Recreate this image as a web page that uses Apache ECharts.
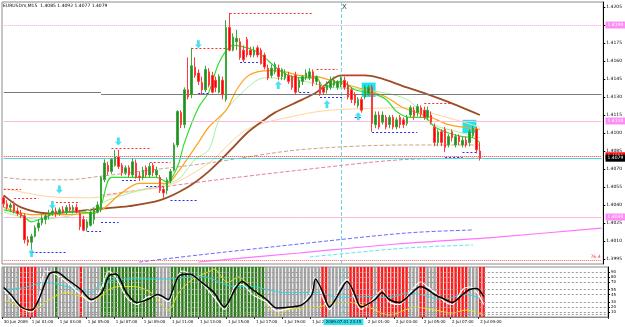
<!DOCTYPE html>
<html><head><meta charset="utf-8">
<script src="https://cdn.jsdelivr.net/npm/echarts@6/dist/echarts.min.js"></script>
<style>html,body{margin:0;padding:0;background:#fff}#c{width:625px;height:327px}</style>
</head><body><div id="c"></div>
<script>
// ---------- DATA ----------
const totalBars = 173; // 138 candles + empty shift space
const tickBars   = [0,8,16,24,32,40,48,56,64,72,80,88,104,112,120,128,136];
const tickLabels = ["30 Jun 2009","1 Jul 01:00","1 Jul 03:00","1 Jul 05:00","1 Jul 07:00","1 Jul 09:00","1 Jul 11:00","1 Jul 13:00","1 Jul 15:00","1 Jul 17:00","1 Jul 19:00","1 Jul 21:00","2 Jul 01:00","2 Jul 03:00","2 Jul 05:00","2 Jul 07:00","2 Jul 09:00"];
const priceTicks = [1.3995,1.4010,1.4025,1.4040,1.4055,1.4070,1.4085,1.4100,1.4115,1.4130,1.4145,1.4160,1.4175,1.4190,1.4205];
const oscLevels = [90,80,70,55,45,30,20,10,5];
const titleText = "EURUSDm,M15  1.4085 1.4092 1.4077 1.4079";
const crossBar = 97;
const crossLabel = "2009.07.01 23:15";

// [open, close, low, high]
const candles = [
[1.4046,1.4041,1.4038,1.4048],[1.4041,1.4038,1.4036,1.4044],[1.4038,1.4040,1.4034,1.4042],[1.4040,1.4035,1.4033,1.4043],
[1.4035,1.4033,1.4031,1.4038],[1.4033,1.4031,1.4029,1.4036],[1.4031,1.4011,1.4008,1.4033],[1.4011,1.4009,1.4006,1.4014],
[1.4009,1.4014,1.4003,1.4016],[1.4014,1.4021,1.4013,1.4023],[1.4021,1.4025,1.4018,1.4028],[1.4025,1.4029,1.4023,1.4032],
[1.4028,1.4031,1.4024,1.4033],[1.4031,1.4033,1.4028,1.4036],[1.4033,1.4035,1.4031,1.4038],[1.4035,1.4033,1.4030,1.4038],
[1.4033,1.4036,1.4031,1.4038],[1.4036,1.4034,1.4033,1.4039],[1.4034,1.4038,1.4032,1.4040],[1.4038,1.4036,1.4034,1.4041],
[1.4036,1.4038,1.4033,1.4040],[1.4038,1.4034,1.4033,1.4041],[1.4033,1.4022,1.4019,1.4036],[1.4028,1.4019,1.4018,1.4031],
[1.4021,1.4026,1.4018,1.4028],[1.4023,1.4034,1.4022,1.4036],[1.4028,1.4036,1.4024,1.4038],[1.4034,1.4040,1.4033,1.4043],
[1.4036,1.4063,1.4034,1.4064],[1.4061,1.4075,1.4059,1.4078],[1.4073,1.4068,1.4065,1.4076],[1.4068,1.4078,1.4066,1.4079],
[1.4073,1.4080,1.4072,1.4086],[1.4080,1.4072,1.4070,1.4086],[1.4073,1.4067,1.4064,1.4075],[1.4067,1.4071,1.4065,1.4073],
[1.4071,1.4065,1.4063,1.4073],[1.4065,1.4076,1.4063,1.4079],[1.4075,1.4063,1.4062,1.4078],[1.4064,1.4063,1.4060,1.4068],
[1.4063,1.4069,1.4061,1.4072],[1.4071,1.4065,1.4063,1.4073],[1.4065,1.4072,1.4063,1.4075],[1.4073,1.4067,1.4064,1.4075],
[1.4065,1.4069,1.4063,1.4072],[1.4063,1.4052,1.4050,1.4065],[1.4053,1.4050,1.4046,1.4056],[1.4052,1.4061,1.4049,1.4063],
[1.4060,1.4068,1.4058,1.4070],[1.4069,1.4090,1.4068,1.4092],[1.4090,1.4118,1.4088,1.4119],[1.4117,1.4107,1.4104,1.4119],
[1.4107,1.4136,1.4104,1.4138],[1.4136,1.4130,1.4128,1.4163],[1.4132,1.4156,1.4129,1.4171],[1.4155,1.4148,1.4146,1.4163],
[1.4150,1.4143,1.4140,1.4153],[1.4142,1.4136,1.4132,1.4147],[1.4136,1.4153,1.4134,1.4156],[1.4151,1.4140,1.4138,1.4154],
[1.4148,1.4134,1.4133,1.4151],[1.4144,1.4138,1.4134,1.4147],[1.4134,1.4147,1.4133,1.4149],[1.4144,1.4132,1.4128,1.4147],
[1.4128,1.4188,1.4126,1.4194],[1.4188,1.4169,1.4168,1.4200],[1.4169,1.4180,1.4168,1.4183],[1.4176,1.4179,1.4169,1.4186],
[1.4176,1.4163,1.4161,1.4179],[1.4169,1.4161,1.4159,1.4173],[1.4178,1.4165,1.4163,1.4180],[1.4169,1.4165,1.4163,1.4172],
[1.4165,1.4169,1.4163,1.4172],[1.4171,1.4165,1.4163,1.4173],[1.4169,1.4158,1.4157,1.4171],[1.4165,1.4155,1.4153,1.4167],
[1.4154,1.4146,1.4144,1.4157],[1.4148,1.4154,1.4146,1.4157],[1.4151,1.4157,1.4149,1.4159],[1.4154,1.4147,1.4144,1.4157],
[1.4147,1.4153,1.4144,1.4154],[1.4146,1.4150,1.4144,1.4153],[1.4148,1.4143,1.4141,1.4151],[1.4147,1.4138,1.4136,1.4148],
[1.4148,1.4134,1.4132,1.4151],[1.4138,1.4144,1.4134,1.4146],[1.4143,1.4147,1.4140,1.4148],[1.4146,1.4150,1.4144,1.4153],
[1.4146,1.4151,1.4144,1.4154],[1.4151,1.4142,1.4139,1.4153],[1.4143,1.4147,1.4140,1.4148],[1.4140,1.4133,1.4131,1.4143],
[1.4138,1.4134,1.4132,1.4140],[1.4136,1.4140,1.4133,1.4143],[1.4138,1.4144,1.4136,1.4147],[1.4140,1.4144,1.4138,1.4147],
[1.4138,1.4143,1.4136,1.4144],[1.4140,1.4146,1.4138,1.4148],[1.4144,1.4138,1.4136,1.4147],[1.4140,1.4130,1.4128,1.4143],
[1.4136,1.4128,1.4125,1.4138],[1.4132,1.4125,1.4123,1.4134],[1.4123,1.4128,1.4121,1.4130],[1.4128,1.4119,1.4117,1.4130],
[1.4130,1.4138,1.4128,1.4140],[1.4133,1.4138,1.4131,1.4140],[1.4138,1.4108,1.4101,1.4140],[1.4107,1.4115,1.4104,1.4118],
[1.4115,1.4105,1.4103,1.4118],[1.4109,1.4115,1.4107,1.4118],[1.4113,1.4105,1.4103,1.4115],[1.4107,1.4113,1.4104,1.4115],
[1.4113,1.4105,1.4103,1.4115],[1.4105,1.4111,1.4103,1.4113],[1.4113,1.4107,1.4104,1.4115],[1.4111,1.4107,1.4104,1.4113],
[1.4108,1.4113,1.4106,1.4115],[1.4115,1.4121,1.4113,1.4123],[1.4119,1.4114,1.4111,1.4122],[1.4117,1.4122,1.4114,1.4124],
[1.4121,1.4116,1.4113,1.4123],[1.4119,1.4113,1.4111,1.4122],[1.4113,1.4119,1.4111,1.4122],[1.4115,1.4109,1.4107,1.4118],
[1.4105,1.4092,1.4089,1.4108],[1.4092,1.4101,1.4089,1.4103],[1.4101,1.4092,1.4089,1.4103],[1.4103,1.4088,1.4084,1.4105],
[1.4090,1.4097,1.4088,1.4099],[1.4101,1.4096,1.4093,1.4103],[1.4090,1.4097,1.4088,1.4099],[1.4097,1.4093,1.4090,1.4099],
[1.4090,1.4094,1.4088,1.4097],[1.4094,1.4090,1.4088,1.4097],[1.4092,1.4101,1.4089,1.4103],[1.4098,1.4104,1.4096,1.4106],
[1.4103,1.4086,1.4083,1.4105],[1.4085,1.4079,1.4077,1.4092]
];

// moving averages: [bar, price]
const maFast   = [[0,1.4036],[5,1.4032],[8,1.4026],[12,1.4030],[16,1.4034],[23,1.4034],[26,1.4033],[28,1.4040],[31,1.4063],[37,1.4063],[44,1.4063],[47,1.4059],[50,1.4072],[52,1.4092],[56,1.4121],[59,1.4134],[62,1.4159],[66,1.4173],[72,1.4169],[75,1.4163],[79,1.4153],[83,1.4147],[87,1.4146],[90,1.4146],[92,1.4138],[97,1.4143],[101,1.4136],[106,1.4133],[110,1.4128],[113,1.4118],[117,1.4113],[121,1.4113],[124,1.4105],[128,1.4100],[132,1.4097],[135,1.4096],[137,1.4092]];
const maOrange = [[0,1.4038],[8,1.4032],[18,1.4032],[28,1.4036],[33,1.4048],[39,1.4058],[47,1.4058],[50,1.4067],[56,1.4092],[59,1.4105],[64,1.4119],[67,1.4136],[70,1.4147],[73,1.4151],[77,1.4152],[81,1.4151],[85,1.4148],[90,1.4147],[94,1.4144],[99,1.4140],[104,1.4136],[110,1.4130],[115,1.4121],[123,1.4113],[128,1.4107],[137,1.4103]];
const maLight  = [[0,1.4034],[10,1.4028],[22,1.4033],[30,1.4044],[40,1.4053],[50,1.4061],[55,1.4078],[59,1.4086],[62,1.4111],[68,1.4132],[75,1.4146],[85,1.4144],[94,1.4138],[104,1.4136],[116,1.4128],[123,1.4108],[132,1.4100],[137,1.4096]];
const maPeach  = [[0,1.4054],[13,1.4047],[25,1.4046],[36,1.4051],[48,1.4057],[59,1.4075],[70,1.4103],[85,1.4115],[94,1.4119],[116,1.4121],[125,1.4115],[137,1.4105]];
const maBrown  = [[0,1.4048],[5,1.4038],[13,1.4033],[28,1.4037],[36,1.4039],[45,1.4044],[53,1.4055],[59,1.4068],[66,1.4088],[70,1.4100],[75,1.4111],[78,1.4117],[86,1.4128],[90,1.4134],[97,1.4148],[104,1.4148],[116,1.4138],[126,1.4128],[137,1.4115]];
const maTan    = [[0,1.4063],[8,1.4061],[18,1.4061],[28,1.4064],[42,1.4069],[59,1.4075],[85,1.4086],[116,1.4090],[137,1.4090]];
const maPink   = [[28,1.4048],[56,1.4059],[85,1.4069],[116,1.4078],[137,1.4079]];
const maBlue   = [[39,1.39925],[56,1.39983],[85,1.40075],[116,1.40167],[135,1.40192]];
const maMagenta= [[56,1.39925],[85,1.4000],[113,1.40075],[142,1.40133],[172,1.40208]];
const maCyan   = [[88,1.39967],[116,1.40042],[135,1.40067]];

// fractal level segments: [fromBar, toBar, price]
const highSegs = [[54,64,1.4171],[65,89,1.4200],[90,96,1.4153],[97,104,1.4148],[121,129,1.4125],[31,42,1.4087],[42,48,1.4076],[0,5,1.4053],[3,10,1.4046],[15,22,1.4042]];
const lowSegs  = [[8,18,1.4001],[24,28,1.4018],[28,33,1.4026],[34,38,1.4061],[41,46,1.4056],[48,56,1.4044],[56,59,1.4133],[68,74,1.4159],[85,88,1.4134],[91,98,1.4130],[101,103,1.4113],[106,119,1.4101],[127,132,1.4080],[132,136,1.4084]];

// signal arrows [bar, price]
const downArrows = [[14,1.4040],[16,1.4053],[33,1.4093],[56,1.4174]];
const upArrows   = [[8,1.4000],[79,1.4140],[93,1.4124],[102,1.4114]];
// cyan zones [fromBar, toBar, topPrice, bottomPrice]
const zones = [[103,107,1.4142,1.4130],[132,136,1.4111,1.4100]];

// horizontal levels
const levelDottedPink = 1.4190, levelPink1 = 1.4110, levelRed = 1.4081, levelBid = 1.4079, levelPink2 = 1.4030, levelFibo = 1.39942;
const grayLineSegs = [[0,28,1.41342],[28,172,1.41325]];

// lower pane
const paneState = ("nnnnn"+"rrrrr"+"nnnnn"+"g"+"nnnnnn"+"r"+"nnnnn"+"gggggggggggggggg"+"nnnn"+"ggggggggggggggggggggggggggg"+"nnnnnnnnnnnnnnnn"+"rr"+"nnnnnn"+"rrrrrrr"+"n"+"rrrrrrrrr"+"nnn"+"rr"+"nnn"+"rrrrrrrrr"+"nnn"+"rr").split("");
const oscBlack = [[0,59],[2,45],[5,20],[8,14],[10,35],[13,86],[15,90],[18,76],[22,55],[25,35],[28,49],[30,82],[32,86],[35,49],[38,29],[41,35],[44,45],[47,35],[48,49],[50,82],[53,86],[56,72],[60,49],[63,20],[66,55],[68,71],[71,55],[75,35],[78,18],[82,20],[85,24],[88,45],[89,76],[91,51],[93,20],[96,51],[98,71],[100,49],[102,20],[106,35],[108,49],[110,35],[113,29],[116,45],[119,61],[121,55],[123,45],[126,35],[128,29],[131,45],[133,55],[135,57],[137,41]];
const oscWhite = [[0,55],[2,40],[5,18],[8,10],[10,40],[12,92],[15,85],[18,70],[22,45],[25,30],[28,60],[30,92],[32,80],[35,40],[38,25],[41,40],[44,42],[47,30],[49,70],[51,92],[54,82],[57,65],[60,40],[63,15],[66,62],[68,65],[71,45],[75,30],[78,12],[82,18],[85,25],[88,55],[89,80],[91,40],[93,15],[96,60],[98,75],[100,40],[102,15],[106,40],[108,55],[110,30],[113,25],[116,50],[119,70],[121,60],[123,50],[126,30],[128,25],[131,55],[133,60],[135,50],[137,25]];
const oscCyan  = [[0,55],[6,59],[12,69],[19,59],[25,49],[28,69],[37,76],[47,76],[53,80],[56,82],[66,61],[71,61],[75,55],[80,49],[85,49],[90,49],[94,41],[99,39],[104,41],[110,39],[116,49],[119,45],[125,35],[132,45],[137,35]];
const oscYellow= [[0,35],[5,20],[8,14],[13,35],[18,49],[22,41],[26,35],[30,55],[33,61],[37,61],[42,49],[47,14],[50,49],[54,76],[59,92],[60,96],[64,69],[67,80],[71,55],[74,35],[78,4],[81,14],[85,18],[90,20],[94,29],[99,29],[104,20],[110,4],[116,18],[117,20],[123,14],[128,8],[132,14],[137,4]];

// ---------- CHART ----------
const FONT = 'DejaVu Sans';
const cats = [];
for (let i = 0; i < totalBars; i++) cats.push(String(i));
const labelAt = {};
tickBars.forEach((b, k) => { labelAt[b] = tickLabels[k]; });
const stateColor = { g: '#2f7f1d', n: '#a3a3a3', r: '#ff1c1c' };
const lastCat = totalBars - 1;

function lineSeries(data, color, width, type, z) {
  return { type: 'line', xAxisIndex: 0, yAxisIndex: 0, data: data, showSymbol: false, smooth: 0.3,
    lineStyle: { color: color, width: width, type: type || 'solid' }, silent: true, z: z || 3 };
}
function segLines(segs) {
  return segs.map(s => [{ coord: [s[0], s[2]] }, { coord: [s[1], s[2]] }]);
}
function hLevel(p, color, type, label) {
  const a = { coord: [0, p], lineStyle: { color: color, type: type, width: 1 }, label: label || { show: false } };
  return [a, { coord: [lastCat, p] }];
}
function boxLabel(text, bg, fg) {
  return { show: true, position: 'end', formatter: text, backgroundColor: bg, color: fg, fontSize: 4.5, padding: [1, 2], distance: 4, fontFamily: FONT };
}
const arrowPath = 'path://M3,0 L7,0 L7,6 L10,6 L5,11 L0,6 L3,6 Z';

const option = {
  animation: false,
  backgroundColor: '#ffffff',
  textStyle: { fontFamily: FONT },
  grid: [
    { left: 2, right: 17, top: 2, height: 262, show: true, borderColor: '#8c8c8c', borderWidth: 1, backgroundColor: '#fff' },
    { left: 2, right: 17, top: 267, height: 50, show: true, borderColor: '#8c8c8c', borderWidth: 1, backgroundColor: '#fff' }
  ],
  xAxis: [
    { type: 'category', gridIndex: 0, data: cats, boundaryGap: true,
      axisLine: { show: false }, axisTick: { show: false }, axisLabel: { show: false }, splitLine: { show: false } },
    { type: 'category', gridIndex: 1, data: cats, boundaryGap: true,
      axisLine: { show: true, lineStyle: { color: '#8c8c8c' } },
      axisTick: { show: true, length: 2, interval: (i) => labelAt[i] !== undefined, lineStyle: { color: '#333' } },
      axisLabel: { show: true, interval: (i) => labelAt[i] !== undefined, formatter: (v, i) => labelAt[i] || '',
        fontSize: 4, color: '#000', align: 'left', margin: 3, fontFamily: FONT },
      splitLine: { show: false } }
  ],
  yAxis: [
    { type: 'value', gridIndex: 0, position: 'right', min: 1.399083, max: 1.420917,
      axisLine: { show: true, lineStyle: { color: '#000' } },
      axisTick: { show: true, length: 2, customValues: priceTicks, lineStyle: { color: '#000' } },
      axisLabel: { customValues: priceTicks, formatter: v => v.toFixed(4), fontSize: 4.5, color: '#000', margin: 3, fontFamily: FONT },
      splitLine: { show: false } },
    { type: 'value', gridIndex: 1, position: 'right', min: 0, max: 100,
      axisLine: { show: true, lineStyle: { color: '#000' } },
      axisTick: { show: true, length: 2, customValues: oscLevels, lineStyle: { color: '#000' } },
      axisLabel: { customValues: oscLevels, fontSize: 4, color: '#000', margin: 3, fontFamily: FONT },
      splitLine: { show: false } }
  ],
  graphic: [
    { type: 'text', left: 3, top: 3, style: { text: titleText, fontSize: 4.5, fill: '#000', fontFamily: FONT }, z: 100 },
    { type: 'text', left: 342, top: 4, style: { text: 'X', fontSize: 7, fill: '#444', fontFamily: FONT }, z: 100 }
  ],
  series: [
    // horizontal levels + crosshair
    { type: 'line', xAxisIndex: 0, yAxisIndex: 0, data: [], silent: true, z: 1,
      markLine: { silent: true, symbol: ['none', 'none'], animation: false, precision: 6,
        data: [
          hLevel(levelDottedPink, '#ff9be6', 'dotted', boxLabel(levelDottedPink.toFixed(4), '#ff8cf5', '#fff')),
          hLevel(levelPink1, '#ffb8de', 'solid', boxLabel(levelPink1.toFixed(4), '#ff8cf5', '#fff')),
          hLevel(levelPink2, '#ffb8de', 'solid', boxLabel(levelPink2.toFixed(4), '#ff8cf5', '#fff')),
          hLevel(levelFibo, '#ff6060', 'dotted', { show: true, position: 'insideEndTop', formatter: '76.4', color: '#ff3030', fontSize: 4.5, distance: 1 }),
          hLevel(levelRed, '#ff3030', 'dotted', boxLabel(levelRed.toFixed(4), '#ff0000', '#fff')),
          hLevel(levelBid, '#3fe0e0', 'solid', boxLabel(levelBid.toFixed(4), '#000', '#fff')),
          { xAxis: crossBar, lineStyle: { color: '#6fd8e6', type: 'dashed', width: 1 }, label: { show: false } }
        ].concat(grayLineSegs.map(s => [{ coord: [s[0], s[2]], lineStyle: { color: '#7a7a7a', type: 'solid', width: 1 }, label: { show: false } }, { coord: [s[1], s[2]] }])) } },
    lineSeries(maBlue, '#6a6aff', 1, 'dashed', 2),
    lineSeries(maMagenta, '#ff73ff', 1.2, 'solid', 2),
    lineSeries(maCyan, '#5ee6ee', 1, 'dashed', 2),
    lineSeries(maTan, '#c9a28f', 1, 'dashed', 2),
    lineSeries(maPink, '#e8809c', 1, 'dashed', 2),
    lineSeries(maPeach, '#ffd59a', 1, 'solid', 2),
    lineSeries(maBrown, '#9b4d26', 1.8, 'solid', 3),
    lineSeries(maLight, '#a8f0a0', 1, 'solid', 3),
    lineSeries(maOrange, '#ffa21a', 1.2, 'solid', 4),
    lineSeries(maFast, '#2ee02e', 1.2, 'solid', 4),
    // fractal dotted segments
    { type: 'line', xAxisIndex: 0, yAxisIndex: 0, data: [], silent: true, z: 5,
      markLine: { silent: true, symbol: ['none', 'none'], animation: false, precision: 6, label: { show: false },
        lineStyle: { color: '#ff2a2a', type: [2, 2], width: 1 }, data: segLines(highSegs) } },
    { type: 'line', xAxisIndex: 0, yAxisIndex: 0, data: [], silent: true, z: 5,
      markLine: { silent: true, symbol: ['none', 'none'], animation: false, precision: 6, label: { show: false },
        lineStyle: { color: '#2a2aff', type: [2, 2], width: 1 }, data: segLines(lowSegs) } },
    // zones
    { type: 'line', xAxisIndex: 0, yAxisIndex: 0, data: [], silent: true, z: 2,
      markArea: { silent: true, itemStyle: { color: '#19e6f0', opacity: 1 },
        data: zones.map(zn => [{ coord: [zn[0], zn[2]] }, { coord: [zn[1], zn[3]] }]) } },
    // candles
    { type: 'candlestick', xAxisIndex: 0, yAxisIndex: 0, data: candles, barWidth: 2, z: 6, silent: true,
      itemStyle: { color: '#2a8a2a', color0: '#ff0000', borderColor: '#3aa83a', borderColor0: '#ff3a3a', borderWidth: 1 } },
    // arrows
    { type: 'scatter', xAxisIndex: 0, yAxisIndex: 0, data: downArrows, symbol: arrowPath, symbolSize: [7, 8],
      itemStyle: { color: '#19d8f0' }, z: 7, silent: true },
    { type: 'scatter', xAxisIndex: 0, yAxisIndex: 0, data: upArrows, symbol: arrowPath, symbolSize: [7, 8], symbolRotate: 180,
      itemStyle: { color: '#19d8f0' }, z: 7, silent: true },
    // lower pane background columns
    { type: 'bar', xAxisIndex: 1, yAxisIndex: 1, silent: true, barWidth: 2.5, z: 1,
      data: paneState.map(s => ({ value: 100, itemStyle: { color: stateColor[s] } })),
      markLine: { silent: true, symbol: ['none', 'none'], animation: false, precision: 6,
        data: oscLevels.map(v => hLevel(v, '#9a9a9a', [2, 2]))
          .concat([{ xAxis: crossBar, lineStyle: { color: '#6fd8e6', type: 'dashed', width: 1 },
            label: { show: true, position: 'start', formatter: crossLabel, backgroundColor: '#33e0f0', color: '#000', fontSize: 4, padding: [1, 2], distance: 2 } }]) } },
    { type: 'line', xAxisIndex: 1, yAxisIndex: 1, data: oscYellow, showSymbol: false, smooth: 0.3, lineStyle: { color: '#e6e61a', width: 1 }, z: 3, silent: true },
    { type: 'line', xAxisIndex: 1, yAxisIndex: 1, data: oscCyan, showSymbol: false, smooth: 0.3, lineStyle: { color: '#2fd6e0', width: 1 }, z: 3, silent: true },
    { type: 'line', xAxisIndex: 1, yAxisIndex: 1, data: oscWhite, showSymbol: false, smooth: 0.3, lineStyle: { color: '#ffffff', width: 1.2 }, z: 4, silent: true },
    { type: 'line', xAxisIndex: 1, yAxisIndex: 1, data: oscBlack, showSymbol: false, smooth: 0.3, lineStyle: { color: '#000000', width: 1.5 }, z: 5, silent: true }
  ]
};
const chart = echarts.init(document.getElementById('c'));
chart.setOption(option);
</script></body></html>
